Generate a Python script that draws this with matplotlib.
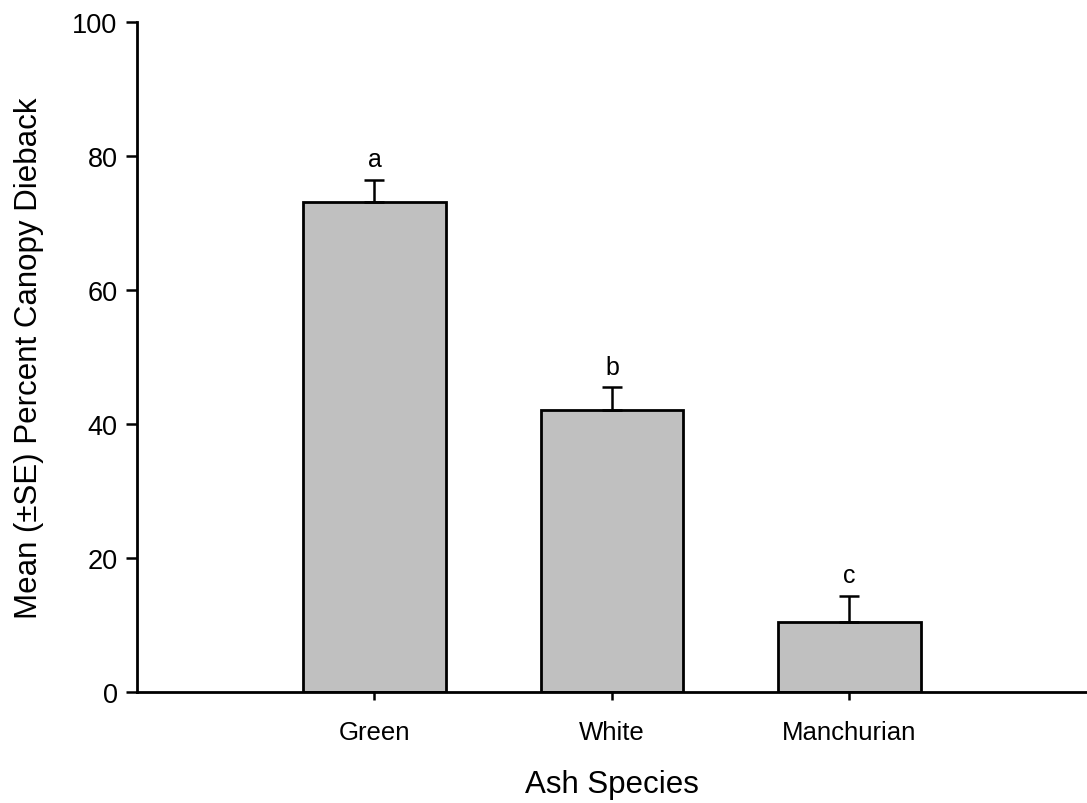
import matplotlib
matplotlib.use("Agg")
import matplotlib.pyplot as plt

plt.rcParams['font.family'] = ['Liberation Sans', 'DejaVu Sans']

# data
species = ["Green", "White", "Manchurian"]
dieback = [73.1, 42.1, 10.4]
se = [3.4, 3.4, 4.0]
letters = ["a", "b", "c"]

fig = plt.figure(figsize=(10.87, 8.04), dpi=100)
ax = fig.add_axes([0.126, 0.138, 0.874, 0.833])

xs = list(range(len(species)))
ax.bar(xs, dieback, width=0.6, color="#c0c0c0", edgecolor="black", linewidth=2.0, zorder=2)
ax.errorbar(xs, dieback, yerr=[[0] * len(se), se], fmt="none", ecolor="black",
            elinewidth=1.8, capsize=7.5, capthick=1.8, zorder=3)

for x, m, s, l in zip(xs, dieback, se, letters):
    ax.annotate(l, (x, m + s), xytext=(0, 6), textcoords="offset points",
                ha="center", va="bottom", fontsize=18)

ax.set_xlim(-1, 3)
ax.set_ylim(0, 100)
ax.set_yticks([0, 20, 40, 60, 80, 100])
ax.set_xticks(xs)
ax.set_xticklabels(species)
ax.tick_params(axis="y", direction="out", length=8, width=1.8, labelsize=19.5, pad=6)
ax.tick_params(axis="x", direction="out", length=6, width=1.8, labelsize=18.5, pad=14)

ax.spines["top"].set_visible(False)
ax.spines["right"].set_visible(False)
ax.spines["left"].set_linewidth(2.0)
ax.spines["bottom"].set_linewidth(2.0)

ax.set_xlabel("Ash Species", fontsize=22.5, labelpad=18)
ax.set_ylabel("Mean (\u00b1SE) Percent Canopy Dieback", fontsize=22.5, labelpad=20)

fig.savefig("out.png", dpi=100)
